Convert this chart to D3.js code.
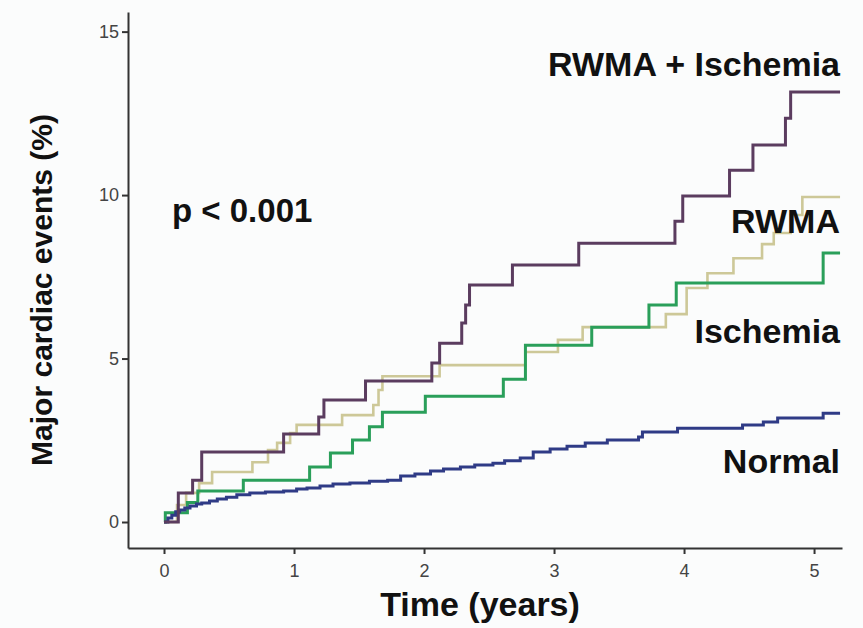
<!DOCTYPE html>
<html>
<head>
<meta charset="utf-8">
<script src="https://cdn.jsdelivr.net/npm/d3@7/dist/d3.min.js"></script>
<style>
  html, body { margin: 0; padding: 0; background: #fbfcfc; }
  svg { display: block; }
</style>
</head>
<body>
<svg id="chart" width="863" height="628"></svg>
<script>
// ---- data (time in years, cumulative major cardiac events in %) ----
const xTicks = [0, 1, 2, 3, 4, 5];
const yTicks = [0, 5, 10, 15];

const normalTimes  = [0, 0.03, 0.06, 0.09, 0.12, 0.16, 0.20, 0.25, 0.29, 0.35, 0.41, 0.48, 0.56, 0.66, 0.78, 0.92, 1.02, 1.10, 1.20, 1.30, 1.43, 1.58, 1.72, 1.82, 1.93, 2.05, 2.15, 2.28, 2.39, 2.53, 2.62, 2.74, 2.84, 2.97, 3.10, 3.24, 3.41, 3.65, 3.68, 3.95, 4.45, 4.61, 4.72, 5.07, 5.2];
const normalValues = [0, 0.12, 0.21, 0.31, 0.37, 0.43, 0.49, 0.55, 0.58, 0.64, 0.70, 0.76, 0.83, 0.89, 0.92, 0.95, 1.01, 1.04, 1.10, 1.16, 1.19, 1.25, 1.28, 1.41, 1.47, 1.56, 1.62, 1.68, 1.74, 1.80, 1.87, 1.96, 2.14, 2.23, 2.32, 2.42, 2.51, 2.60, 2.75, 2.87, 2.97, 3.06, 3.18, 3.33, 3.33];

const ischemiaTimes  = [0, 0.01, 0.18, 0.26, 0.61, 1.12, 1.28, 1.45, 1.58, 1.68, 2.01, 2.61, 2.78, 3.29, 3.73, 3.94, 5.07, 5.2];
const ischemiaValues = [0, 0.28, 0.60, 0.95, 1.28, 1.68, 2.11, 2.51, 2.91, 3.36, 3.85, 4.37, 5.41, 5.96, 6.64, 7.31, 8.23, 8.23];

const rwmaTimes  = [0, 0.10, 0.17, 0.27, 0.37, 0.68, 0.80, 0.87, 0.97, 1.02, 1.37, 1.61, 1.65, 1.68, 2.12, 2.78, 3.03, 3.22, 3.86, 4.02, 4.18, 4.38, 4.60, 4.69, 4.82, 4.91, 5.2];
const rwmaValues = [0, 0.52, 0.89, 1.19, 1.53, 1.83, 2.20, 2.42, 2.72, 2.97, 3.27, 3.58, 4.04, 4.46, 4.80, 5.20, 5.57, 5.96, 6.36, 7.16, 7.61, 8.07, 8.50, 8.84, 9.39, 9.94, 9.94];

const bothTimes  = [0, 0.11, 0.22, 0.29, 0.92, 1.19, 1.23, 1.55, 2.06, 2.12, 2.29, 2.32, 2.35, 2.68, 3.19, 3.93, 3.99, 4.35, 4.53, 4.78, 4.82, 5.2];
const bothValues = [0, 0.89, 1.28, 2.14, 2.69, 3.21, 3.73, 4.31, 4.86, 5.47, 6.09, 6.64, 7.25, 7.86, 8.53, 9.20, 9.97, 10.76, 11.53, 12.35, 13.15, 13.15];

const seriesNames = ["RWMA", "Ischemia", "Normal", "RWMA + Ischemia"];
const seriesColors = ["#cdc898", "#2a9f5a", "#2f3b86", "#5b3c5f"];

// ---- chart ----
const svg = d3.select("#chart");

const x = d3.scaleLinear().domain([-0.277, 5.215]).range([128, 842]);
const y = d3.scaleLinear().domain([-0.795, 15.6]).range([548, 12]);

const series = [
  { name: seriesNames[0], color: seriesColors[0], t: rwmaTimes, v: rwmaValues, w: 2.6 },
  { name: seriesNames[1], color: seriesColors[1], t: ischemiaTimes, v: ischemiaValues, w: 3 },
  { name: seriesNames[2], color: seriesColors[2], t: normalTimes, v: normalValues, w: 3 },
  { name: seriesNames[3], color: seriesColors[3], t: bothTimes, v: bothValues, w: 3 }
];

const line = d3.line()
  .x(d => x(d[0]))
  .y(d => y(d[1]))
  .curve(d3.curveStepAfter);

// axes
const fmt = d3.format("d");
const xAxis = d3.axisBottom(x).tickValues(xTicks).tickFormat(fmt).tickSize(6).tickSizeOuter(0).tickPadding(7);
const yAxis = d3.axisLeft(y).tickValues(yTicks).tickFormat(fmt).tickSize(6).tickSizeOuter(0).tickPadding(3);

const gx = svg.append("g").attr("transform", "translate(0,548)").call(xAxis);
const gy = svg.append("g").attr("transform", "translate(128,0)").call(yAxis);

[gx, gy].forEach(g => {
  g.select(".domain").attr("stroke", "#333").attr("stroke-width", 2);
  g.selectAll(".tick line").attr("stroke", "#333").attr("stroke-width", 2);
  g.selectAll(".tick text")
    .attr("fill", "#444")
    .style("font-family", "'Liberation Sans Narrow', 'Arial Narrow', 'Liberation Sans', sans-serif")
    .style("font-size", "18px");
});
gx.selectAll(".tick text").attr("dy", "0.9em");

// series
series.forEach(s => {
  const pts = s.t.map((t, i) => [t, s.v[i]]);
  svg.append("path")
    .datum(pts)
    .attr("fill", "none")
    .attr("stroke", s.color)
    .attr("stroke-width", s.w)
    .attr("stroke-linejoin", "miter")
    .attr("d", line);
});

// labels
const bold = "'Liberation Sans', Arial, Helvetica, sans-serif";
const labelData = [
  { text: "RWMA + Ischemia", y: 76 },
  { text: "RWMA", y: 233 },
  { text: "Ischemia", y: 343 },
  { text: "Normal", y: 473 }
];
svg.selectAll("text.lab").data(labelData).enter().append("text")
  .attr("class", "lab")
  .attr("x", 840).attr("y", d => d.y)
  .attr("text-anchor", "end")
  .style("font-family", bold).style("font-weight", "bold").style("font-size", "34px")
  .attr("fill", "#111")
  .text(d => d.text);

svg.append("text")
  .attr("x", 172).attr("y", 222)
  .style("font-family", bold).style("font-weight", "bold").style("font-size", "33px")
  .attr("fill", "#111")
  .text("p < 0.001");

svg.append("text")
  .attr("x", 480).attr("y", 616)
  .attr("text-anchor", "middle")
  .style("font-family", bold).style("font-weight", "bold").style("font-size", "34px")
  .attr("fill", "#111")
  .text("Time (years)");

svg.append("text")
  .attr("transform", "translate(52,290) rotate(-90)")
  .attr("text-anchor", "middle")
  .style("font-family", bold).style("font-weight", "bold").style("font-size", "30px")
  .attr("fill", "#111")
  .text("Major cardiac events (%)");
</script>
</body>
</html>
